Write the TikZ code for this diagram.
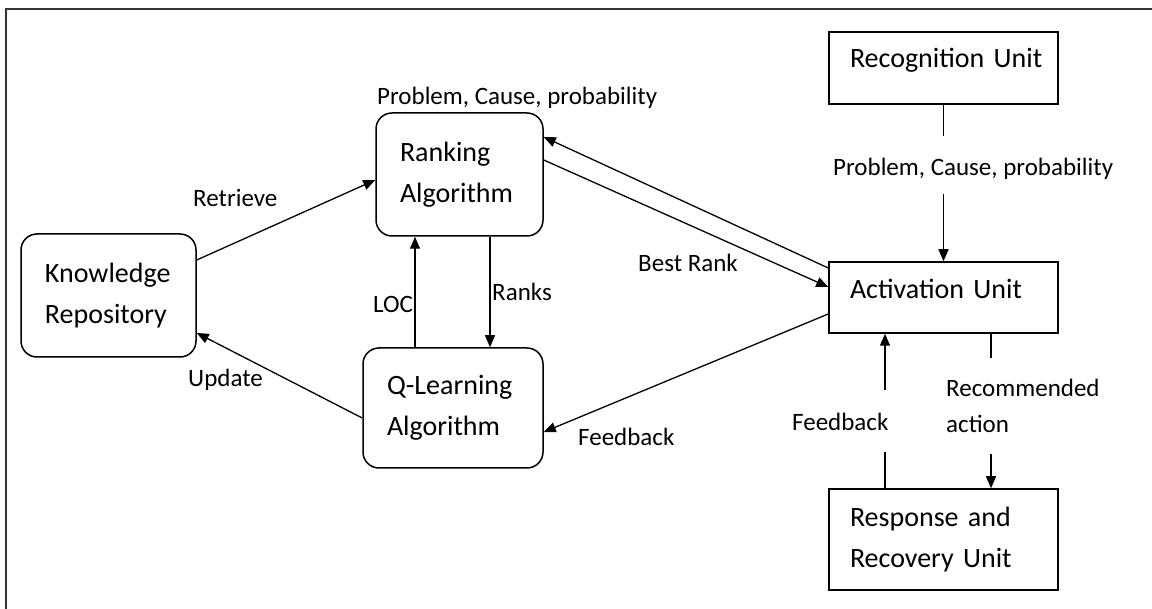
\documentclass[tikz,border=0pt]{standalone}
\usepackage{fontspec}
\setmainfont{Carlito}
\usetikzlibrary{arrows.meta}
\tikzset{
  rbox/.style={draw,line width=1.5pt,rounded corners=16pt,align=left,inner xsep=24pt,font=\fontsize{28}{41}\selectfont},
  sbox/.style={draw,line width=1.5pt,align=left,inner xsep=21pt,text width=187pt,minimum width=229pt,font=\fontsize{28}{41}\selectfont},
  lbl/.style={inner sep=0pt,font=\fontsize{25}{36}\selectfont},
  link/.style={line width=1.3pt,black},
  arr/.style={link,-{Triangle[length=12pt,width=10pt]}}
}
\begin{document}
\begin{tikzpicture}[x=1pt,y=-1pt]
    \useasboundingbox (0,0) rectangle (1152,609);
    \draw[line width=1.5pt,black!80](6,609)--(6,9)--(1152,9);
    % boxes
    \node[rbox,text width=127pt,minimum width=175pt,minimum height=123pt] (kr) at (108.5,295.5) {Knowledge\\Repository};
    \node[rbox,text width=119pt,minimum width=167pt,minimum height=123pt] (rank) at (459.5,174.5) {Ranking\\Algorithm};
    \node[rbox,text width=132pt,minimum width=180pt,minimum height=120pt] (qlearn) at (453,408) {Q-Learning\\Algorithm};
    \node[sbox,minimum height=72pt,text height=13pt,text depth=13pt] (recog) at (943.5,68) {\mbox{Recognition Unit}};
    \node[sbox,minimum height=71pt,text depth=17pt] (act) at (943.5,297.5) {Activation Unit};
    \node[sbox,minimum height=101pt] (resp) at (943.5,539.5) {Response and\\Recovery Unit};
    % labels
    \node[lbl,anchor=base west] (pcpRank) at (377,105) {Problem, Cause, probability};
    \node[lbl,anchor=base west] (retrieve) at (193,207) {Retrieve};
    \node[lbl,anchor=base west] (update) at (188,387) {Update};
    \node[lbl,anchor=base west] (loc) at (373,313) {LOC};
    \node[lbl,anchor=base west] (ranks) at (492,301) {Ranks};
    \node[lbl,anchor=base west] (bestrank) at (638,272) {Best Rank};
    \node[lbl,anchor=base west] (fbQ) at (578,446) {Feedback};
    \node[lbl,anchor=base west] (pcpAct) at (833,176) {Problem, Cause, probability};
    \node[lbl,anchor=west,align=left] (recact) at (946,406) {Recommended\\action};
    \node[lbl,anchor=base west] (fbResp) at (792,431) {Feedback};
    % gaps round the labels on the right
    \coordinate (recogGap) at ([yshift=-31pt]recog.south);
    \coordinate (actGap) at ([yshift=67pt]act.north);
    \coordinate (recTop) at ([xshift=47.5pt,yshift=-24pt]act.south);
    \coordinate (recBot) at ([xshift=47.5pt,yshift=34pt]resp.north);
    \coordinate (fbBot) at ([xshift=-58.5pt,yshift=36pt]resp.north);
    \coordinate (fbTop) at ([xshift=-58.5pt,yshift=-56pt]act.south);
    % connectors
    \draw[arr]([yshift=35.5pt]kr.east)--([yshift=-5.5pt]rank.west);
    \draw[arr]([yshift=-10pt]qlearn.west)--([yshift=-37.5pt]kr.east);
    \draw[arr]([xshift=-38pt]qlearn.north)--([xshift=-44.5pt]rank.south);
    \draw[arr]([xshift=30.5pt]rank.south)--([xshift=37pt]qlearn.north);
    \draw[arr]([yshift=14.5pt]rank.east)--([yshift=10.5pt]act.west);
    \draw[arr]([yshift=29.5pt]act.west)--([yshift=37.5pt]rank.east);
    \draw[arr]([yshift=-16.5pt]act.west)--([yshift=-24pt]qlearn.east);
    \draw[link](recog.south)--(recogGap);
    \draw[arr](actGap)--(act.north);
    \draw[link]([xshift=47.5pt]act.south)--(recTop);
    \draw[arr](recBot)--([xshift=47.5pt]resp.north);
    \draw[link]([xshift=-58.5pt]resp.north)--(fbBot);
    \draw[arr](fbTop)--([xshift=-58.5pt]act.south);
  \end{tikzpicture}
\end{document}
